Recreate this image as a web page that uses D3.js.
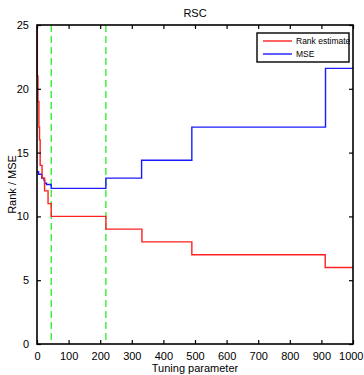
<!DOCTYPE html>
<html>
<head>
<meta charset="utf-8">
<script src="https://cdn.jsdelivr.net/npm/d3@7"></script>
<style>
  body { margin: 0; background: #fff; }
  text { font-family: "Liberation Sans", Arial, sans-serif; fill: #000; }
</style>
</head>
<body>
<div id="chart"></div>
<script>
var svgWidth = 364;
var svgHeight = 375;

var margin = { top: 25, right: 11, bottom: 31, left: 37 };
var width = svgWidth - margin.left - margin.right;
var height = svgHeight - margin.top - margin.bottom;

// Rank estimate (step changes)
var rankT = [0, 1, 3, 6, 8, 10, 16, 24, 35, 45, 218, 332, 490, 912, 1000];
var rankV = [25, 21, 19, 17, 16, 14, 13, 12, 11, 10, 9, 8, 7, 6, 6];

// MSE
var mseT = [0, 5, 15, 22, 24, 30, 44, 45, 218, 331, 490, 913, 1000];
var mseV = [13.5, 13.3, 13.0, 12.85, 12.6, 12.5, 12.45, 12.2, 13.0, 14.4, 17.0, 21.6, 21.6];

// dashed markers
var markT = [45, 218];

var xTicks = [0, 100, 200, 300, 400, 500, 600, 700, 800, 900, 1000];
var yTicks = [0, 5, 10, 15, 20, 25];

var svg = d3.select("#chart")
  .append("svg")
  .attr("width", svgWidth)
  .attr("height", svgHeight);

var chartGroup = svg.append("g")
  .attr("transform", `translate(${margin.left}, ${margin.top})`);

var x = d3.scaleLinear().domain([0, 1000]).range([0, width]);
var y = d3.scaleLinear().domain([0, 25]).range([height, 0]);

// dashed vertical lines
chartGroup.selectAll(".mark")
  .data(markT)
  .enter()
  .append("line")
  .attr("x1", d => x(d))
  .attr("x2", d => x(d))
  .attr("y1", 0)
  .attr("y2", height)
  .attr("stroke", "#11ee11")
  .attr("stroke-width", 1.2)
  .attr("stroke-dasharray", "7,4");

var rankData = rankT.map((t, i) => ({ t: t, v: rankV[i] }));
var mseData = mseT.map((t, i) => ({ t: t, v: mseV[i] }));

var stepLine = d3.line()
  .x(d => x(d.t))
  .y(d => y(d.v))
  .curve(d3.curveStepAfter);

chartGroup.append("path")
  .datum(mseData)
  .attr("d", stepLine)
  .attr("fill", "none")
  .attr("stroke", "#1a1aff")
  .attr("stroke-width", 1.4);

chartGroup.append("path")
  .datum(rankData)
  .attr("d", stepLine)
  .attr("fill", "none")
  .attr("stroke", "#ff2020")
  .attr("stroke-width", 1.4);

// axes, ticks pointing inward
var bottomAxis = d3.axisBottom(x).tickValues(xTicks).tickFormat(d3.format("d"))
  .tickSizeInner(-4).tickSizeOuter(0).tickPadding(8);
var topAxis = d3.axisTop(x).tickValues(xTicks).tickSizeInner(-4).tickSizeOuter(0).tickFormat("");
var leftAxis = d3.axisLeft(y).tickValues(yTicks).tickSizeInner(-4).tickSizeOuter(0).tickPadding(8);
var rightAxis = d3.axisRight(y).tickValues(yTicks).tickSizeInner(-4).tickSizeOuter(0).tickFormat("");

var gb = chartGroup.append("g").attr("transform", `translate(0, ${height})`).call(bottomAxis);
var gt = chartGroup.append("g").call(topAxis);
var gl = chartGroup.append("g").call(leftAxis);
var gr = chartGroup.append("g").attr("transform", `translate(${width}, 0)`).call(rightAxis);

[gb, gt, gl, gr].forEach(function(g) {
  g.select(".domain").remove();
  g.selectAll(".tick line").attr("stroke", "#000").attr("stroke-width", 1.2);
  g.selectAll("text").attr("font-size", "11px").attr("font-family", "Liberation Sans, Arial, sans-serif");
});
gb.selectAll("text").attr("dy", "0.71em");
// keep the last label inside the window
gb.selectAll(".tick").filter(d => d === 1000).select("text")
  .attr("text-anchor", "end").attr("x", 10);

// box
chartGroup.append("rect")
  .attr("x", 0).attr("y", 0)
  .attr("width", width).attr("height", height)
  .attr("fill", "none")
  .attr("stroke", "#000")
  .attr("stroke-width", 1.6);

// title and labels
svg.append("text")
  .attr("x", margin.left + width / 2)
  .attr("y", 17)
  .attr("text-anchor", "middle")
  .attr("font-size", "11px")
  .text("RSC");

svg.append("text")
  .attr("x", margin.left + width / 2)
  .attr("y", 372)
  .attr("text-anchor", "middle")
  .attr("font-size", "11px")
  .text("Tuning parameter");

svg.append("text")
  .attr("transform", `translate(16, ${margin.top + height / 2}) rotate(-90)`)
  .attr("text-anchor", "middle")
  .attr("font-size", "11px")
  .text("Rank / MSE");

// legend
var legend = svg.append("g").attr("transform", "translate(257, 33)");
legend.append("rect")
  .attr("width", 92).attr("height", 29)
  .attr("fill", "#fff")
  .attr("stroke", "#000")
  .attr("stroke-width", 1.4);

var legendItems = [
  { name: "Rank estimate", color: "#ff2020" },
  { name: "MSE", color: "#1a1aff" }
];
legendItems.forEach(function(d, i) {
  legend.append("line")
    .attr("x1", 6).attr("x2", 35)
    .attr("y1", 8 + i * 13).attr("y2", 8 + i * 13)
    .attr("stroke", d.color)
    .attr("stroke-width", 1.4);
  legend.append("text")
    .attr("x", 39)
    .attr("y", 11 + i * 13)
    .attr("font-size", "8.5px")
    .text(d.name);
});
</script>
</body>
</html>
